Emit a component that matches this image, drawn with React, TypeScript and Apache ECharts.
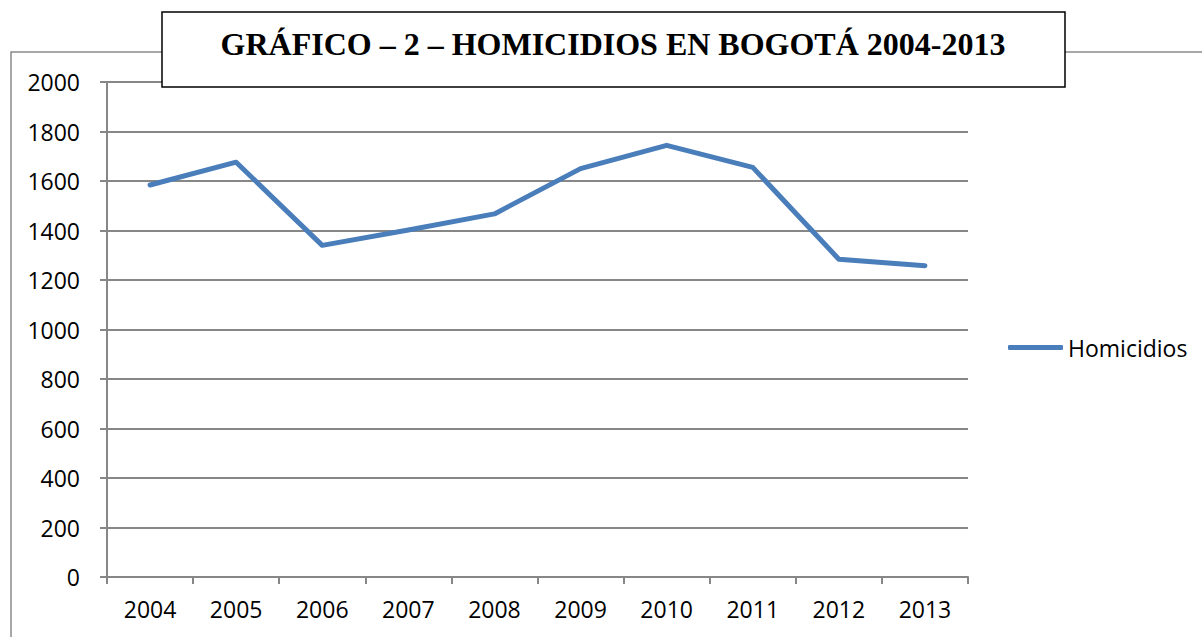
import React, { useEffect, useRef } from "react";
import * as echarts from "echarts";

const titleText = "GRÁFICO – 2 – HOMICIDIOS EN BOGOTÁ 2004-2013";
const seriesName = "Homicidios";
const years = ["2004", "2005", "2006", "2007", "2008", "2009", "2010", "2011", "2012", "2013"];
const homicidios = [1584, 1676, 1340, 1402, 1467, 1650, 1744, 1655, 1284, 1258];
const yMin = 0;
const yMax = 2000;
const yInterval = 200;

export default function App() {
  const ref = useRef<HTMLDivElement>(null);
  useEffect(() => {
    if (!ref.current) return;
    const chart = echarts.init(ref.current, null, { renderer: "svg" });
    const axisGrey = "#878787";
    const labelFont = "'Open Sans', 'DejaVu Sans', sans-serif";
    chart.setOption({
      animation: false,
      backgroundColor: "#ffffff",
      grid: { left: 107, right: 234, top: 82, bottom: 60, containLabel: false },
      xAxis: {
        type: "category",
        data: years,
        boundaryGap: true,
        axisLine: { show: true, lineStyle: { color: axisGrey, width: 2 } },
        axisTick: { show: true, length: 7, alignWithLabel: false, lineStyle: { color: axisGrey, width: 2 } },
        axisLabel: { color: "#000", fontSize: 23, fontFamily: labelFont, margin: 20, interval: 0 },
        splitLine: { show: false },
      },
      yAxis: {
        type: "value",
        min: yMin,
        max: yMax,
        interval: yInterval,
        axisLine: { show: true, lineStyle: { color: axisGrey, width: 2 } },
        axisTick: { show: true, length: 7, lineStyle: { color: axisGrey, width: 2 } },
        axisLabel: {
          color: "#000",
          fontSize: 23,
          fontFamily: labelFont,
          margin: 27,
          formatter: (v: number) => String(v),
        },
        splitLine: { show: true, lineStyle: { color: axisGrey, width: 2 } },
      },
      legend: {
        show: true,
        orient: "vertical",
        left: 1003,
        top: 331,
        itemWidth: 55,
        itemHeight: 5,
        icon: "roundRect",
        textStyle: { color: "#000", fontSize: 23, fontFamily: labelFont },
        data: [seriesName],
      },
      series: [
        {
          name: seriesName,
          type: "line",
          data: homicidios,
          symbol: "none",
          smooth: false,
          color: "#4a7ebb",
          lineStyle: { color: "#4a7ebb", width: 5, cap: "round", join: "round" },
          z: 3,
        },
      ],
      graphic: [
        {
          type: "rect",
          z: 0,
          zlevel: 0,
          shape: { x: 11, y: 52, width: 1250, height: 700 },
          style: { fill: "none", stroke: "#8a8a8a", lineWidth: 1.5 },
          silent: true,
        },
        {
          type: "rect",
          z: 100,
          shape: { x: 162, y: 12, width: 903, height: 75 },
          style: { fill: "#ffffff", stroke: "#000000", lineWidth: 1.5 },
          silent: true,
        },
        {
          type: "text",
          z: 101,
          x: 613,
          y: 44,
          style: {
            text: titleText,
            fill: "#000",
            font: "bold 32px 'Liberation Serif', 'Times New Roman', serif",
            align: "center",
            verticalAlign: "middle",
          },
          silent: true,
        },
      ],
    });
    return () => chart.dispose();
  }, []);
  return (
    <div
      ref={ref}
      style={{ position: "fixed", left: 0, top: 0, width: 1202, height: 637, background: "#fff" }}
    />
  );
}
